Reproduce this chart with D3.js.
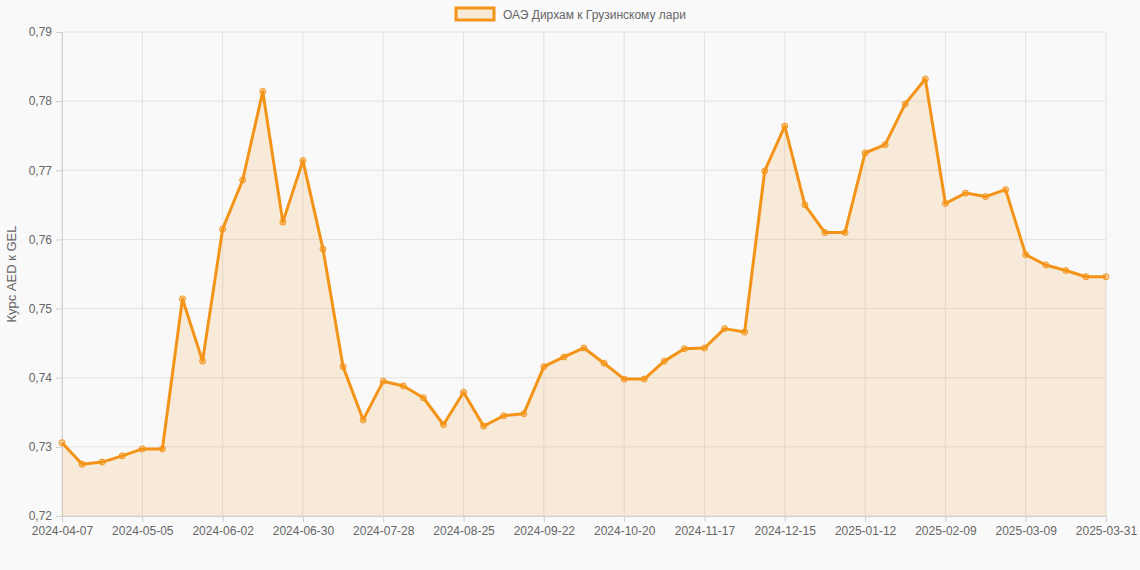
<!DOCTYPE html>
<html><head><meta charset="utf-8">
<script src="https://cdn.jsdelivr.net/npm/d3@7/dist/d3.min.js"></script>
<style>body{margin:0;background:#f9f9f9;font-family:"Liberation Sans",Arial,sans-serif}</style>
</head><body><svg id="c" width="1140" height="570"></svg>
<script>
const startDate = new Date(Date.UTC(2024,3,7));
const dates = [];
for (let i=0;i<52;i++){ dates.push(new Date(startDate.getTime()+i*7*864e5).toISOString().slice(0,10)); }
dates.push("2025-03-31");
const values = [0.7306,0.7275,0.7278,0.7287,0.7297,0.7297,0.7514,0.7424,0.7615,0.7686,0.7814,0.7625,0.7714,0.7586,0.7416,0.7339,0.7395,0.7388,0.7371,0.7332,0.7379,0.7330,0.7345,0.7348,0.7416,0.7430,0.7443,0.7421,0.7398,0.7398,0.7424,0.7442,0.7443,0.7471,0.7466,0.7699,0.7764,0.7650,0.7610,0.7610,0.7725,0.7737,0.7796,0.7832,0.7652,0.7667,0.7662,0.7672,0.7578,0.7563,0.7555,0.7546,0.7546];
const yTicks = [0.72,0.73,0.74,0.75,0.76,0.77,0.78,0.79];
const seriesName = "ОАЭ Дирхам к Грузинскому лари";
const yTitle = "Курс AED к GEL";
const color = "#f39419";

const svg = d3.select("#c");
const L=62,R=1106,T=32,B=516;
const x = d3.scalePoint().domain(dates).range([L,R]);
const y = d3.scaleLinear().domain([0.72,0.79]).range([B,T]);
const shown = dates.filter((d,i)=>i%4===0 || i===dates.length-1);
const fmt = v => v.toFixed(2).replace(".",",");

const g = svg.append("g");
// grid
g.selectAll(".hy").data(yTicks).join("line").attr("x1",L).attr("x2",R).attr("y1",d=>y(d)).attr("y2",d=>y(d)).attr("stroke","#e2e2e2");
g.selectAll(".vx").data(shown).join("line").attr("x1",d=>x(d)).attr("x2",d=>x(d)).attr("y1",T).attr("y2",B).attr("stroke","#e2e2e2");
// axes
const ya = svg.append("g").attr("transform",`translate(${L},0)`).call(d3.axisLeft(y).tickValues(yTicks).tickFormat(fmt).tickSize(6).tickPadding(4));
const xa = svg.append("g").attr("transform",`translate(0,${B})`).call(d3.axisBottom(x).tickValues(shown).tickSize(6).tickPadding(4));
[ya,xa].forEach(a=>{a.select(".domain").attr("stroke","#d0d0d0");a.selectAll("line").attr("stroke","#d0d0d0");a.selectAll("text").attr("fill","#666").style("font-size","12px").style("font-family","Liberation Sans, Arial");});
// area + line
svg.append("path").datum(values).attr("fill","rgba(243,148,25,0.15)")
 .attr("d",d3.area().x((d,i)=>x(dates[i])).y0(B).y1(d=>y(d)));
svg.append("path").datum(values).attr("fill","none").attr("stroke",color).attr("stroke-width",3).attr("stroke-linejoin","round")
 .attr("d",d3.line().x((d,i)=>x(dates[i])).y(d=>y(d)));
svg.selectAll(".pt").data(values).join("circle").attr("cx",(d,i)=>x(dates[i])).attr("cy",d=>y(d)).attr("r",3)
 .attr("fill","rgba(243,148,25,0.35)").attr("stroke",color).attr("stroke-width",1);
// y title
svg.append("text").attr("transform","translate(16,274) rotate(-90)").attr("text-anchor","middle").attr("fill","#666").style("font-size","13px").text(yTitle);
// legend
svg.append("rect").attr("x",456).attr("y",8).attr("width",38).attr("height",12).attr("fill","rgba(243,148,25,0.15)").attr("stroke",color).attr("stroke-width",3);
svg.append("text").attr("x",503).attr("y",18.5).attr("fill","#666").style("font-size","12px").text(seriesName);
</script></body></html>
